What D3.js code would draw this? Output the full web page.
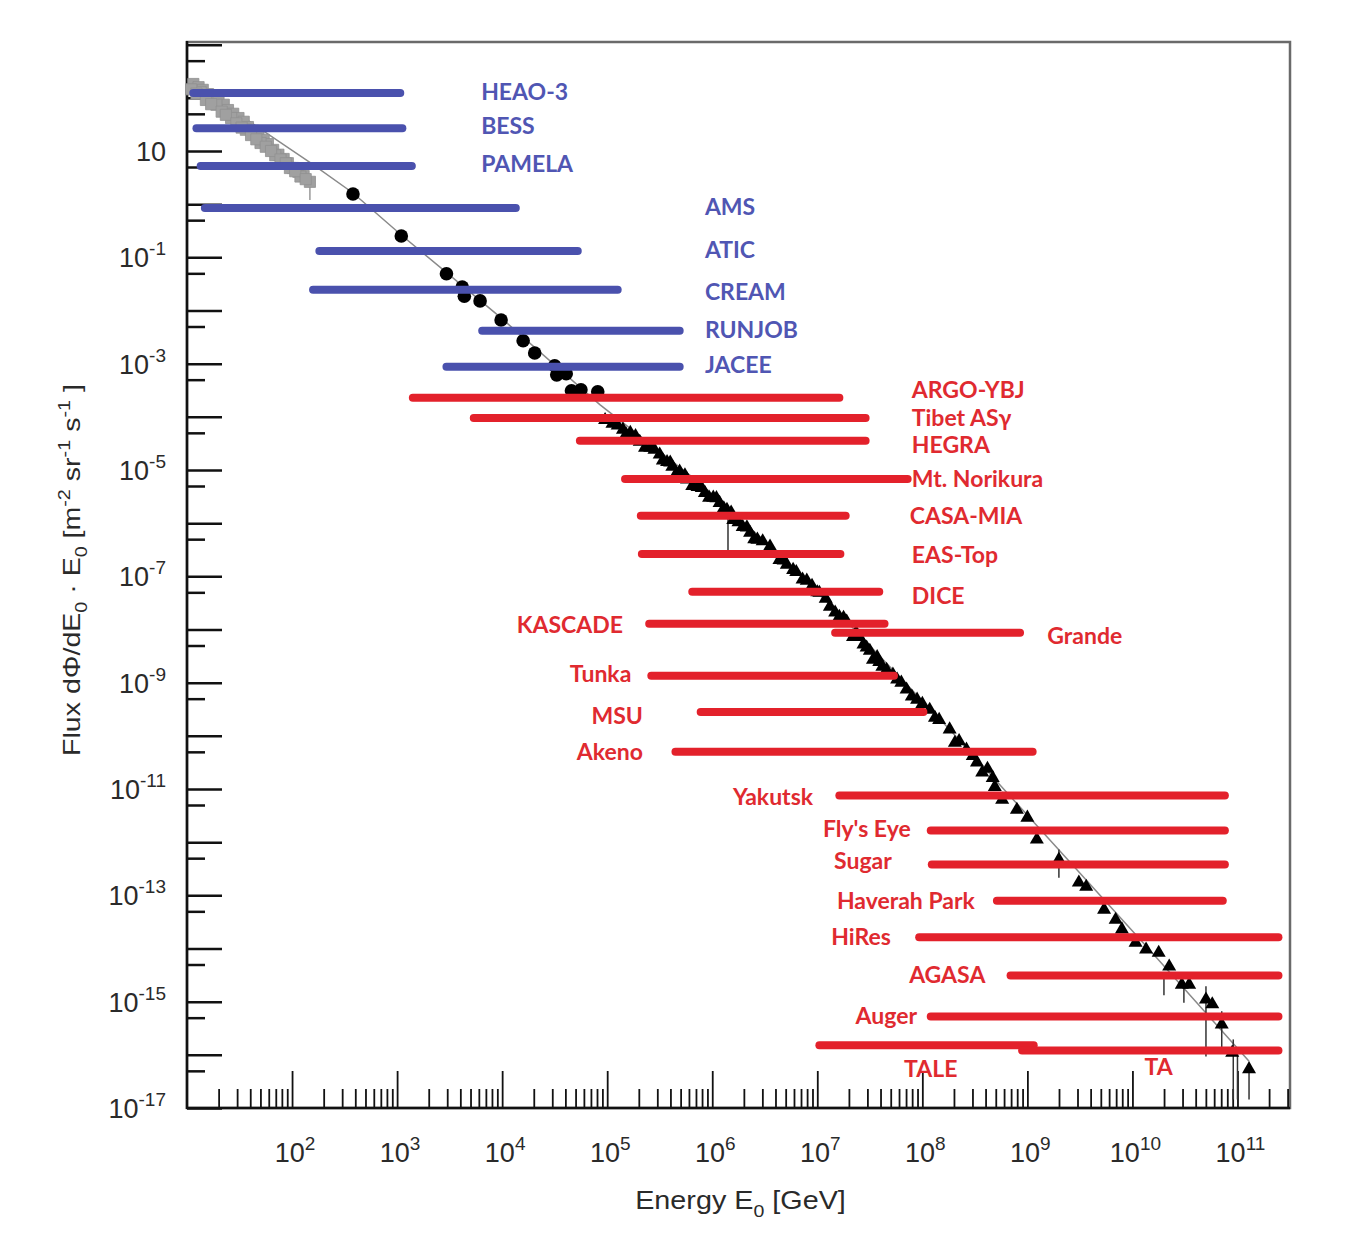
<!DOCTYPE html>
<html>
<head>
<meta charset="utf-8">
<script src="https://cdn.jsdelivr.net/npm/d3@7"></script>
<style>
  body { margin: 0; background: #fff; }
  svg { display: block; }
  .tick-label { font-family: "Liberation Sans", Arial, sans-serif; font-size: 27px; fill: #2a2a2a; }
  .axis-title { font-family: "Liberation Sans", Arial, sans-serif; fill: #2a2a2a; }
  .exp-label { font-family: Lato, "Open Sans", sans-serif; font-weight: bold; font-size: 23px; }
</style>
</head>
<body>
<div id="chart"></div>
<script>
// all values are log10: energy in GeV, flux in m^-2 sr^-1 s^-1
var xMinLog = 1, xMaxLog = 11.5;
var yMinLog = -17, yMaxLog = 3.05;

// experiments: energy range and the level on the flux axis where the bar sits
var expNames = ["HEAO-3", "BESS", "PAMELA", "AMS", "ATIC", "CREAM", "RUNJOB", "JACEE",
  "ARGO-YBJ", "Tibet ASγ", "HEGRA", "Mt. Norikura", "CASA-MIA", "EAS-Top", "DICE",
  "KASCADE", "Grande", "Tunka", "MSU", "Akeno", "Yakutsk", "Fly's Eye", "Sugar",
  "Haverah Park", "HiRes", "AGASA", "Auger", "TALE", "TA"];
var expDirect = [1, 1, 1, 1, 1, 1, 1, 1, 0, 0, 0, 0, 0, 0, 0, 0, 0, 0, 0, 0, 0, 0, 0, 0, 0, 0, 0, 0, 0];
var expLogEmin = [1.06, 1.09, 1.13, 1.17, 2.26, 2.20, 3.81, 3.47, 3.15, 3.73, 4.74, 5.17, 5.32, 5.33, 5.81,
  5.40, 7.17, 5.42, 5.89, 5.65, 7.21, 8.08, 8.09, 8.71, 7.97, 8.84, 8.08, 7.02, 8.95];
var expLogEmax = [3.03, 3.05, 3.14, 4.13, 4.72, 5.10, 5.69, 5.69, 7.21, 7.46, 7.46, 7.86, 7.27, 7.22, 7.59,
  7.64, 8.93, 7.73, 8.01, 9.05, 10.88, 10.88, 10.88, 10.86, 11.39, 11.39, 11.39, 9.06, 11.39];
var expLogLevel = [2.09, 1.43, 0.72, -0.07, -0.88, -1.61, -2.38, -3.06, -3.64, -4.02, -4.45, -5.17, -5.86,
  -6.58, -7.29, -7.89, -8.06, -8.87, -9.55, -10.30, -11.12, -11.78, -12.42, -13.10, -13.79, -14.51,
  -15.28, -15.82, -15.92];
// where each name is written (energy) and how it is anchored
var labelLogE = [3.80, 3.80, 3.80, 5.93, 5.93, 5.93, 5.93, 5.93, 7.90, 7.90, 7.90, 7.90, 7.88, 7.90, 7.90,
  5.15, 9.19, 5.23, 5.34, 5.34, 6.96, 7.89, 7.71, 8.50, 7.70, 8.60, 7.95, 8.08, 10.25];
var labelAnchor = ["start", "start", "start", "start", "start", "start", "start", "start",
  "start", "start", "start", "start", "start", "start", "start", "end", "start", "end", "end", "end",
  "end", "end", "end", "end", "end", "end", "end", "middle", "middle"];
var labelLogLevel = [2.12, 1.47, 0.76, -0.05, -0.86, -1.65, -2.36, -3.02, -3.49, -4.02, -4.53, -5.17, -5.86,
  -6.60, -7.36, -7.91, -8.12, -8.84, -9.62, -10.30, -11.14, -11.74, -12.34, -13.10, -13.77, -14.49,
  -15.26, -16.27, -16.23];

// low energy measurements (grey squares)
var squareLogE = [1.06, 1.11, 1.15, 1.20, 1.25, 1.30, 1.35, 1.39, 1.44, 1.49, 1.54, 1.58, 1.63, 1.68,
  1.73, 1.77, 1.82, 1.87, 1.92, 1.96, 2.01, 2.06, 2.11, 2.17, 1.13, 1.28, 1.42, 1.56, 1.70, 1.84, 1.98, 2.08,
  1.04, 1.09, 1.18, 1.23, 1.33, 1.37, 1.47, 1.52, 1.61, 1.66, 1.75, 1.80, 1.89, 1.94, 2.03, 2.13];
var squareLogF = [2.26, 2.20, 2.15, 2.07, 2.00, 1.94, 1.87, 1.77, 1.70, 1.62, 1.55, 1.45, 1.38, 1.30,
  1.21, 1.13, 1.02, 0.93, 0.85, 0.77, 0.68, 0.61, 0.53, 0.42, 2.11, 1.87, 1.62, 1.40, 1.15, 0.92, 0.68, 0.52,
  2.16, 2.08, 1.96, 1.88, 1.74, 1.68, 1.52, 1.44, 1.30, 1.22, 1.08, 1.00, 0.84, 0.77, 0.62, 0.47];

// direct measurements (black circles)
var circleLogE = [2.58, 3.04, 3.47, 3.62, 3.64, 3.79, 3.99, 4.20, 4.31, 4.50, 4.52, 4.61, 4.66, 4.75, 4.91];
var circleLogF = [0.19, -0.60, -1.31, -1.56, -1.73, -1.82, -2.18, -2.57, -2.80, -3.04, -3.21, -3.19,
  -3.51, -3.49, -3.53];

// air shower measurements (black triangles)
var triLogE = [4.98, 5.05, 5.15, 5.22, 5.31, 5.41, 5.50, 5.57, 5.62, 5.69, 5.76, 5.86, 5.93, 6.01, 6.07,
  6.14, 6.20, 6.29, 6.36, 6.43, 6.55, 6.64, 6.71, 6.77, 6.86, 6.95, 7.02, 7.12, 7.21, 7.28, 7.34, 7.40,
  7.47, 7.53, 7.59, 7.62, 7.72, 7.76, 7.85, 7.95, 8.07, 8.16, 8.26, 8.31, 8.42, 8.52, 8.57, 8.67, 8.69,
  8.76, 8.90, 9.00, 9.09, 9.30, 9.49, 9.56, 9.73, 9.84, 9.90, 10.03, 10.13, 10.25, 10.35, 10.47, 10.54,
  10.70, 10.76, 10.85, 10.95, 11.11,
  5.10, 5.18, 5.27, 5.36, 5.45, 5.53, 5.60, 5.66, 5.74, 5.81, 5.90, 5.97, 6.04, 6.11, 6.18, 6.25, 6.33,
  6.40, 6.48, 6.58, 6.68, 6.80, 6.90, 7.00, 7.08, 7.17, 7.25, 7.37, 7.44, 7.50, 7.57, 7.66, 7.80, 7.90,
  8.00, 8.12, 8.35, 8.48, 8.62];
var triLogF = [-4.06, -4.13, -4.24, -4.30, -4.47, -4.58, -4.71, -4.85, -4.94, -5.03, -5.18, -5.32, -5.43,
  -5.52, -5.62, -5.75, -5.94, -6.07, -6.18, -6.31, -6.44, -6.69, -6.78, -6.88, -7.06, -7.18, -7.31, -7.57,
  -7.76, -7.85, -8.14, -8.14, -8.34, -8.57, -8.61, -8.70, -8.85, -8.94, -9.13, -9.32, -9.51, -9.70, -9.88,
  -10.13, -10.26, -10.50, -10.69, -10.79, -10.96, -11.20, -11.39, -11.54, -11.95, -12.33, -12.76, -12.84,
  -13.27, -13.46, -13.64, -13.89, -14.02, -14.08, -14.34, -14.68, -14.68, -14.96, -15.05, -15.43, -15.96,
  -16.27,
  -4.16, -4.33, -4.36, -4.58, -4.62, -4.82, -4.86, -5.06, -5.10, -5.30, -5.34, -5.52, -5.53, -5.72, -5.80,
  -5.98, -6.08, -6.30, -6.34, -6.58, -6.70, -6.92, -7.08, -7.30, -7.42, -7.68, -7.78, -8.06, -8.28, -8.40,
  -8.52, -8.76, -9.00, -9.26, -9.40, -9.66, -10.10, -10.38, -10.62];

// vertical error bars
var errLogE = [2.17, 6.15, 9.30, 10.30, 10.49, 10.70, 10.85, 10.96, 11.00, 11.11];
var errLogLo = [0.08, -6.54, -12.67, -14.88, -15.02, -16.03, -15.95, -16.84, -16.84, -16.84];
var errLogHi = [0.42, -5.81, -12.14, -14.49, -14.68, -14.71, -15.18, -15.71, -15.90, -16.18];

// fit line through the spectrum
var lineLogE = [1.04, 2.18, 2.58, 3.04, 3.99, 4.93, 5.88, 6.64, 7.31, 8.26, 9.21, 10.16, 11.11];
var lineLogF = [2.30, 0.77, 0.21, -0.58, -2.14, -3.77, -5.24, -6.59, -7.91, -9.88, -11.95, -14.02, -16.12];

var yLabelExps = [1, -1, -3, -5, -7, -9, -11, -13, -15, -17];
var xLabelExps = [2, 3, 4, 5, 6, 7, 8, 9, 10, 11];

var W = 1359, H = 1242;
var margin = {top: 42, right: 69, bottom: 134, left: 187};
var blue = "#4a51ad", red = "#e3212b";
var p10 = function(v) { return Math.pow(10, v); };

var svg = d3.select("#chart").append("svg")
    .attr("width", W)
    .attr("height", H);

var x = d3.scaleLog()
    .domain([p10(xMinLog), p10(xMaxLog)])
    .range([margin.left, W - margin.right]);

var y = d3.scaleLog()
    .domain([p10(yMinLog), p10(yMaxLog)])
    .range([H - margin.bottom, margin.top]);

// frame (top/right grey)
svg.append("rect")
    .attr("x", margin.left)
    .attr("y", margin.top)
    .attr("width", W - margin.left - margin.right)
    .attr("height", H - margin.top - margin.bottom)
    .attr("fill", "none")
    .attr("stroke", "#6a6a6a")
    .attr("stroke-width", 2.5);

// tick values
var xMajor = d3.range(2, 12).map(p10);
var xMinor = [];
d3.range(1, 12).forEach(function(n) {
  d3.range(2, 10).forEach(function(k) {
    var v = k * p10(n);
    if (v < p10(xMaxLog)) xMinor.push(v);
  });
});
var yMajor = d3.range(yMinLog, 4).map(p10);
var yMinor = d3.range(yMinLog, 3).map(function(n) { return 5 * p10(n); });

function cleanAxis(g, w) {
  g.select(".domain").remove();
  g.selectAll(".tick line").attr("stroke", "#111").attr("stroke-width", w);
}

svg.append("g")
    .attr("transform", "translate(0," + (H - margin.bottom) + ")")
    .call(d3.axisBottom(x).tickValues(xMinor).tickSize(-19).tickFormat(""))
    .call(cleanAxis, 1.8);
svg.append("g")
    .attr("transform", "translate(0," + (H - margin.bottom) + ")")
    .call(d3.axisBottom(x).tickValues(xMajor).tickSize(-37).tickFormat(""))
    .call(cleanAxis, 1.8);

svg.append("g")
    .attr("transform", "translate(" + margin.left + ",0)")
    .call(d3.axisLeft(y).tickValues(yMinor).tickSize(-18).tickFormat(""))
    .call(cleanAxis, 2.5);
svg.append("g")
    .attr("transform", "translate(" + margin.left + ",0)")
    .call(d3.axisLeft(y).tickValues(yMajor.filter(function(v) { return v < p10(yMaxLog); })).tickSize(-35).tickFormat(""))
    .call(cleanAxis, 2.5);

// left and bottom axis lines
svg.append("line")
    .attr("x1", margin.left).attr("x2", margin.left)
    .attr("y1", margin.top - 1).attr("y2", H - margin.bottom + 1)
    .attr("stroke", "#111").attr("stroke-width", 2.5);
svg.append("line")
    .attr("x1", margin.left).attr("x2", W - margin.right)
    .attr("y1", H - margin.bottom).attr("y2", H - margin.bottom)
    .attr("stroke", "#111").attr("stroke-width", 2.5);

// y tick labels
var yl = svg.append("g").selectAll("text")
  .data(yLabelExps)
  .enter().append("text")
    .attr("class", "tick-label")
    .attr("text-anchor", "end")
    .attr("x", margin.left - 21)
    .attr("y", function(d) { return y(p10(d)) + 10; });
yl.append("tspan").text("10");
yl.filter(function(d) { return d !== 1; })
  .append("tspan")
    .attr("dy", -12)
    .attr("font-size", 19)
    .text(function(d) { return d; });

// x tick labels
var xl = svg.append("g").selectAll("text")
  .data(xLabelExps)
  .enter().append("text")
    .attr("class", "tick-label")
    .attr("text-anchor", "middle")
    .attr("x", function(d) { return x(p10(d)) + 3; })
    .attr("y", H - margin.bottom + 54);
xl.append("tspan").text("10");
xl.append("tspan")
    .attr("dy", -12)
    .attr("font-size", 19)
    .text(function(d) { return d; });

// axis titles
var xt = svg.append("text")
    .attr("class", "axis-title")
    .attr("font-size", 25)
    .attr("text-anchor", "middle")
    .attr("transform", "translate(" + ((margin.left + W - margin.right) / 2 + 2) + "," + (H - margin.bottom + 101) + ") scale(1.15,1)");
xt.append("tspan").text("Energy E");
xt.append("tspan").attr("dy", 8).attr("font-size", 17).text("0");
xt.append("tspan").attr("dy", -8).text(" [GeV]");

var yt = svg.append("text")
    .attr("class", "axis-title")
    .attr("font-size", 23)
    .attr("text-anchor", "middle")
    .attr("transform", "translate(80," + ((margin.top + H - margin.bottom) / 2 - 5) + ") rotate(-90) scale(1.24,1)");
yt.append("tspan").text("Flux dΦ/dE");
yt.append("tspan").attr("dy", 7).attr("font-size", 16).text("0");
yt.append("tspan").attr("dy", -7).text(" · E");
yt.append("tspan").attr("dy", 7).attr("font-size", 16).text("0");
yt.append("tspan").attr("dy", -7).text(" [m");
yt.append("tspan").attr("dy", -10).attr("font-size", 16).text("-2");
yt.append("tspan").attr("dy", 10).text(" sr");
yt.append("tspan").attr("dy", -10).attr("font-size", 16).text("-1");
yt.append("tspan").attr("dy", 10).text(" s");
yt.append("tspan").attr("dy", -10).attr("font-size", 16).text("-1");
yt.append("tspan").attr("dy", 10).text(" ]");

// fit line
var line = d3.line()
    .x(function(d) { return x(p10(d[0])); })
    .y(function(d) { return y(p10(d[1])); });
svg.append("path")
    .datum(d3.zip(lineLogE, lineLogF))
    .attr("d", line)
    .attr("fill", "none")
    .attr("stroke", "#8a8a8a")
    .attr("stroke-width", 1.5);

// error bars
svg.append("g").selectAll("line")
  .data(d3.range(errLogE.length))
  .enter().append("line")
    .attr("x1", function(i) { return x(p10(errLogE[i])); })
    .attr("x2", function(i) { return x(p10(errLogE[i])); })
    .attr("y1", function(i) { return y(p10(errLogLo[i])); })
    .attr("y2", function(i) { return y(p10(errLogHi[i])); })
    .attr("stroke", function(i) { return i === 0 ? "#999" : "#333"; })
    .attr("stroke-width", 1.5);

// grey squares
svg.append("g").selectAll("path")
  .data(d3.zip(squareLogE, squareLogF))
  .enter().append("path")
    .attr("d", d3.symbol().type(d3.symbolSquare).size(125))
    .attr("transform", function(d) { return "translate(" + x(p10(d[0])) + "," + y(p10(d[1])) + ")"; })
    .attr("fill", "#a0a0a0")
    .attr("stroke", "#909090")
    .attr("stroke-width", 0.8);

// circles
svg.append("g").selectAll("circle")
  .data(d3.zip(circleLogE, circleLogF))
  .enter().append("circle")
    .attr("cx", function(d) { return x(p10(d[0])); })
    .attr("cy", function(d) { return y(p10(d[1])); })
    .attr("r", 6.8)
    .attr("fill", "#000");

// triangles
svg.append("g").selectAll("path")
  .data(d3.zip(triLogE, triLogF))
  .enter().append("path")
    .attr("d", d3.symbol().type(d3.symbolTriangle).size(85))
    .attr("transform", function(d) { return "translate(" + x(p10(d[0])) + "," + y(p10(d[1])) + ")"; })
    .attr("fill", "#000");

// experiment bars
var idx = d3.range(expNames.length);
svg.append("g").selectAll("line")
  .data(idx)
  .enter().append("line")
    .attr("x1", function(i) { return x(p10(expLogEmin[i])); })
    .attr("x2", function(i) { return x(p10(expLogEmax[i])); })
    .attr("y1", function(i) { return y(p10(expLogLevel[i])); })
    .attr("y2", function(i) { return y(p10(expLogLevel[i])); })
    .attr("stroke", function(i) { return expDirect[i] ? blue : red; })
    .attr("stroke-width", 8)
    .attr("stroke-linecap", "round");

// experiment names
svg.append("g").selectAll("text")
  .data(idx)
  .enter().append("text")
    .attr("class", "exp-label")
    .attr("x", function(i) { return x(p10(labelLogE[i])); })
    .attr("y", function(i) { return y(p10(labelLogLevel[i])); })
    .attr("dy", "0.36em")
    .attr("text-anchor", function(i) { return labelAnchor[i]; })
    .attr("fill", function(i) { return expDirect[i] ? "#5056b3" : "#e02a30"; })
    .text(function(i) { return expNames[i]; });
</script>
</body>
</html>
